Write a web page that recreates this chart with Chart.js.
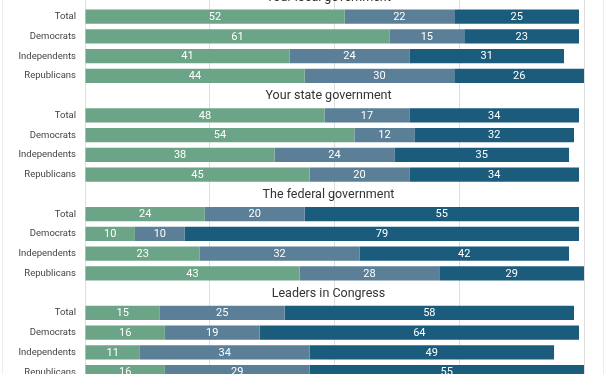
<!DOCTYPE html>
<html>
<head>
<meta charset="utf-8">
<script src="https://cdn.jsdelivr.net/npm/chart.js@4/dist/chart.umd.min.js"></script>
<style>
  html, body { margin: 0; padding: 0; background: #fff; overflow: hidden; }
  #wrap { position: relative; width: 612px; height: 374px; overflow: hidden; }
  #frame { position: absolute; left: 2px; top: 0; width: 600px; height: 374px;
           border-left: 1px solid #ededed; border-right: 1px solid #ededed; }
  #chart-box { position: absolute; left: 0; top: -13px; width: 612px; height: 395px; }
</style>
</head>
<body>
<div id="wrap">
  <div id="frame"></div>
  <div id="chart-box"><canvas id="trustChart"></canvas></div>
</div>
<script>
// --- données ---
const groupTitles = ['Your local government', 'Your state government', 'The federal government', 'Leaders in Congress'];
const partyLabels = ['Total', 'Democrats', 'Independents', 'Republicans'];

// une ligne par groupe, dans l'ordre de partyLabels
const highTrust = [[52, 61, 41, 44], [48, 54, 38, 45], [24, 10, 23, 43], [15, 16, 11, 16]];
const someTrust = [[22, 15, 24, 30], [17, 12, 24, 20], [20, 10, 32, 28], [25, 19, 34, 29]];
const lowTrust  = [[25, 23, 31, 26], [34, 32, 35, 34], [55, 79, 42, 29], [58, 64, 49, 55]];

const xTickStep = 25;
const xMax = 100;

const seriesColors = ['#6ba486', '#5b7f96', '#1b5c7d'];

// --- construction des catégories : une ligne titre puis 4 lignes par groupe ---
const labels = [];
groupTitles.forEach(() => {
    labels.push('');
    partyLabels.forEach(p => labels.push(p));
});

function flatten(series) {
    const out = [];
    series.forEach(group => {
        out.push(null);
        group.forEach(v => out.push(v));
    });
    return out;
}

// Texte des valeurs + titres des groupes
const overlayText = {
    id: 'overlayText',
    afterDatasetsDraw(chart) {
        const ctx = chart.ctx;
        ctx.save();
        ctx.font = '11px Roboto';
        ctx.fillStyle = '#ffffff';
        ctx.textAlign = 'center';
        ctx.textBaseline = 'middle';
        chart.data.datasets.forEach((ds, i) => {
            chart.getDatasetMeta(i).data.forEach((bar, j) => {
                const v = ds.data[j];
                if (v == null) return;
                ctx.fillText(String(v), (bar.x + bar.base) / 2, bar.y + 0.5);
            });
        });

        const area = chart.chartArea;
        const yScale = chart.scales.y;
        ctx.font = '12.5px Roboto';
        ctx.fillStyle = '#333333';
        groupTitles.forEach((t, g) => {
            const y = yScale.getPixelForValue(g * (partyLabels.length + 1));
            ctx.fillText(t, (area.left + area.right) / 2 - 6, y + 0.5);
        });
        ctx.restore();
    }
};

const ctx = document.getElementById('trustChart').getContext('2d');
new Chart(ctx, {
    type: 'bar',
    data: {
        labels: labels,
        datasets: [
            { label: 'High', data: flatten(highTrust), backgroundColor: seriesColors[0] },
            { label: 'Some', data: flatten(someTrust), backgroundColor: seriesColors[1] },
            { label: 'Low',  data: flatten(lowTrust),  backgroundColor: seriesColors[2] }
        ]
    },
    options: {
        indexAxis: 'y',
        responsive: true,
        maintainAspectRatio: false,
        animation: false,
        layout: { padding: { left: 0, top: 0, bottom: 0, right: 28 } },
        datasets: { bar: { barPercentage: 0.72, categoryPercentage: 1 } },
        plugins: { legend: { display: false }, tooltip: { enabled: false } },
        scales: {
            x: {
                stacked: true,
                min: 0,
                max: xMax,
                ticks: { display: false, stepSize: xTickStep },
                grid: { color: '#dedede', drawTicks: false },
                border: { display: false }
            },
            y: {
                stacked: true,
                grid: { display: false },
                border: { display: false },
                ticks: { color: '#444', font: { family: 'Roboto', size: 9.5 }, padding: 1 },
                afterFit: s => { s.width = 85; s.paddingTop = 0; s.paddingBottom = 0; }
            }
        }
    },
    plugins: [overlayText]
});
</script>
</body>
</html>
